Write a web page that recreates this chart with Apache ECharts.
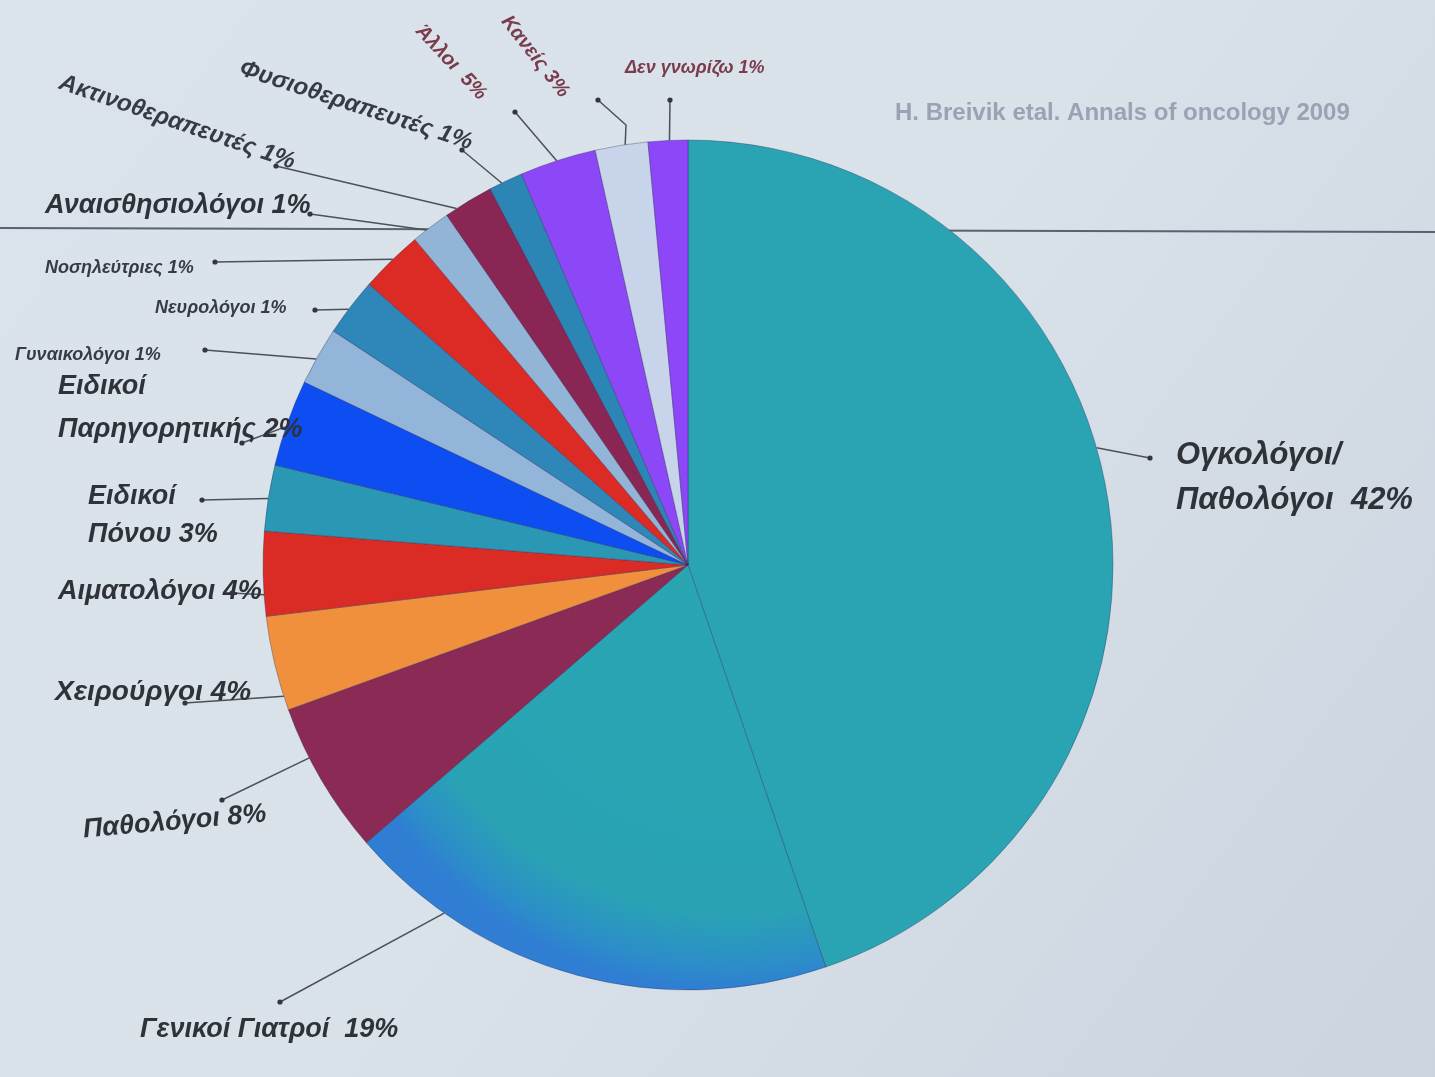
<!DOCTYPE html>
<html>
<head>
<meta charset="utf-8">
<script src="https://cdn.jsdelivr.net/npm/echarts@6/dist/echarts.min.js"></script>
<style>
  html, body { margin: 0; padding: 0; background: #dce3ea; }
  #chart { width: 1435px; height: 1077px; }
</style>
</head>
<body>
<div id="chart"></div>
<script>
// ---- data ----
const categories = [
  'Ογκολόγοι/Παθολόγοι', 'Γενικοί Γιατροί', 'Παθολόγοι', 'Χειρούργοι', 'Αιματολόγοι',
  'Ειδικοί Πόνου', 'Ειδικοί Παρηγορητικής', 'Γυναικολόγοι', 'Νευρολόγοι', 'Νοσηλεύτριες',
  'Αναισθησιολόγοι', 'Ακτινοθεραπευτές', 'Φυσιοθεραπευτές', 'Άλλοι', 'Κανείς', 'Δεν γνωρίζω'
];
// percentages printed in the labels
const printedPct = [42, 19, 8, 4, 4, 3, 2, 1, 1, 1, 1, 1, 1, 5, 3, 1];
// share of the circle each slice occupies in the picture (%)
const sliceShare = [44.7, 18.9, 5.8, 3.6, 3.2, 2.5, 3.3, 2.2, 2.2, 2.4, 1.5, 1.9, 1.3, 2.9, 2.0, 1.5];
const sourceNote = 'H. Breivik etal. Annals of oncology 2009';

// ---- styles ----
const CX = 688, CY = 565, R = 425;
const sliceColors = [
  '#2aa3b2',
  { type: 'radial', x: 0.8, y: 0, r: 1, colorStops: [
      { offset: 0, color: '#28a6b1' }, { offset: 0.82, color: '#29a3b4' },
      { offset: 0.94, color: '#2c8ec8' }, { offset: 1, color: '#2f7ed3' } ] },
  '#8a2a55', '#f08f3c', '#db2b25', '#2a97b5', '#0d4ef2', '#93b5d9',
  '#2f86b9', '#dc2b24', '#92b5d7', '#892653', '#2b86b6', '#8c47f6', '#c7d4ea', '#8d46f8'
];
// label text layout: explicit line breaks, font sizes, positions and rotations
const labelNames = [
  'Ογκολόγοι/\nΠαθολόγοι ', 'Γενικοί Γιατροί ', 'Παθολόγοι', 'Χειρούργοι', 'Αιματολόγοι',
  'Ειδικοί\nΠόνου', 'Ειδικοί\nΠαρηγορητικής', 'Γυναικολόγοι', 'Νευρολόγοι', 'Νοσηλεύτριες',
  'Αναισθησιολόγοι', 'Ακτινοθεραπευτές', 'Φυσιοθεραπευτές', 'Άλλοι ', 'Κανείς', 'Δεν γνωρίζω'
];
const labelSize = [31, 27, 27, 28, 27, 27, 27, 18, 18, 18, 27, 24, 24, 20, 20, 18];
const labelLH =   [45, 30, 30, 30, 30, 38, 43, 20, 20, 20, 30, 28, 28, 24, 24, 20];
const labelColor = ['#2f3237', '#2f3237', '#2f3237', '#2f3237', '#2f3237', '#2f3237', '#2f3237',
  '#383b42', '#383b42', '#383b42', '#2f3237', '#383b42', '#383b42', '#7a3c4c', '#7a3c4c', '#7a3c4c'];
const labelAt = [
  [1176, 478, 0], [140, 1030, 0], [83, 830, 5], [55, 692, 0], [58, 592, 0],
  [88, 516, 0], [58, 408, 0], [15, 355, 0], [155, 308, 0], [45, 268, 0],
  [45, 206, 0], [60, 82, -19], [240, 68, -18], [419, 28, -47], [505, 18, -52], [625, 68, 0]
];
// leader lines: angle on the rim where they start, and the tip next to the label
const leaderAngle = [74, 215, 243, 252, 266, 279, 289, 299, 307, 316, 322, 327, 334, 342, 351.5, 357.5];
const leaderTip = [
  [1150, 458], [280, 1002], [222, 800], [185, 703], [232, 593], [202, 500], [242, 443],
  [205, 350], [315, 310], [215, 262], [310, 214], [276, 166], [462, 150], [515, 112], [598, 100], [670, 100]
];
const leaderBend = { 14: [626, 125] };

function rimPoint(deg) {
  const a = deg * Math.PI / 180;
  return [CX + R * Math.sin(a), CY - R * Math.cos(a)];
}

const data = categories.map((c, i) => ({
  name: c,
  value: sliceShare[i],
  itemStyle: { color: sliceColors[i] },
  label: {
    formatter: labelNames[i] + ' ' + printedPct[i] + '%',
    fontSize: labelSize[i],
    lineHeight: labelLH[i],
    color: labelColor[i]
  }
}));

const tipDots = leaderTip.map(t => ({
  type: 'circle', z: 10,
  shape: { cx: t[0], cy: t[1], r: 2.6 },
  style: { fill: '#33363c' }
}));

const chart = echarts.init(document.getElementById('chart'));
chart.setOption({
  backgroundColor: {
    type: 'linear', x: 0, y: 0, x2: 1, y2: 1,
    colorStops: [
      { offset: 0, color: '#dae3eb' },
      { offset: 0.5, color: '#d9e1e9' },
      { offset: 1, color: '#cbd4df' }
    ]
  },
  title: {
    text: sourceNote,
    left: 890, top: 96,
    textStyle: { color: '#98a3b3', fontSize: 24, fontWeight: 'bold', fontFamily: 'Liberation Sans' }
  },
  graphic: [{
    type: 'line', z: 0,
    shape: { x1: 0, y1: 228, x2: 1435, y2: 232 },
    style: { stroke: '#59626e', lineWidth: 2 }
  }].concat(tipDots),
  series: [{
    type: 'pie',
    z: 5,
    center: [CX, CY],
    radius: [0, R],
    startAngle: 90,
    clockwise: true,
    avoidLabelOverlap: false,
    animation: false,
    itemStyle: { borderColor: 'rgba(40,40,90,0.35)', borderWidth: 1 },
    label: {
      show: true,
      position: 'outside',
      fontFamily: 'Liberation Sans',
      fontStyle: 'italic',
      fontWeight: 'bold'
    },
    labelLine: {
      show: true, length: 18, length2: 12, smooth: false,
      lineStyle: { color: '#4c5159', width: 1.5 }
    },
    labelLayout: function (p) {
      const i = p.dataIndex;
      const a = labelAt[i];
      const pts = [rimPoint(leaderAngle[i])];
      if (leaderBend[i]) pts.push(leaderBend[i]);
      pts.push(leaderTip[i]);
      return { x: a[0], y: a[1], rotate: a[2], align: 'left', verticalAlign: 'middle', labelLinePoints: pts };
    },
    data: data
  }]
});
</script>
</body>
</html>
